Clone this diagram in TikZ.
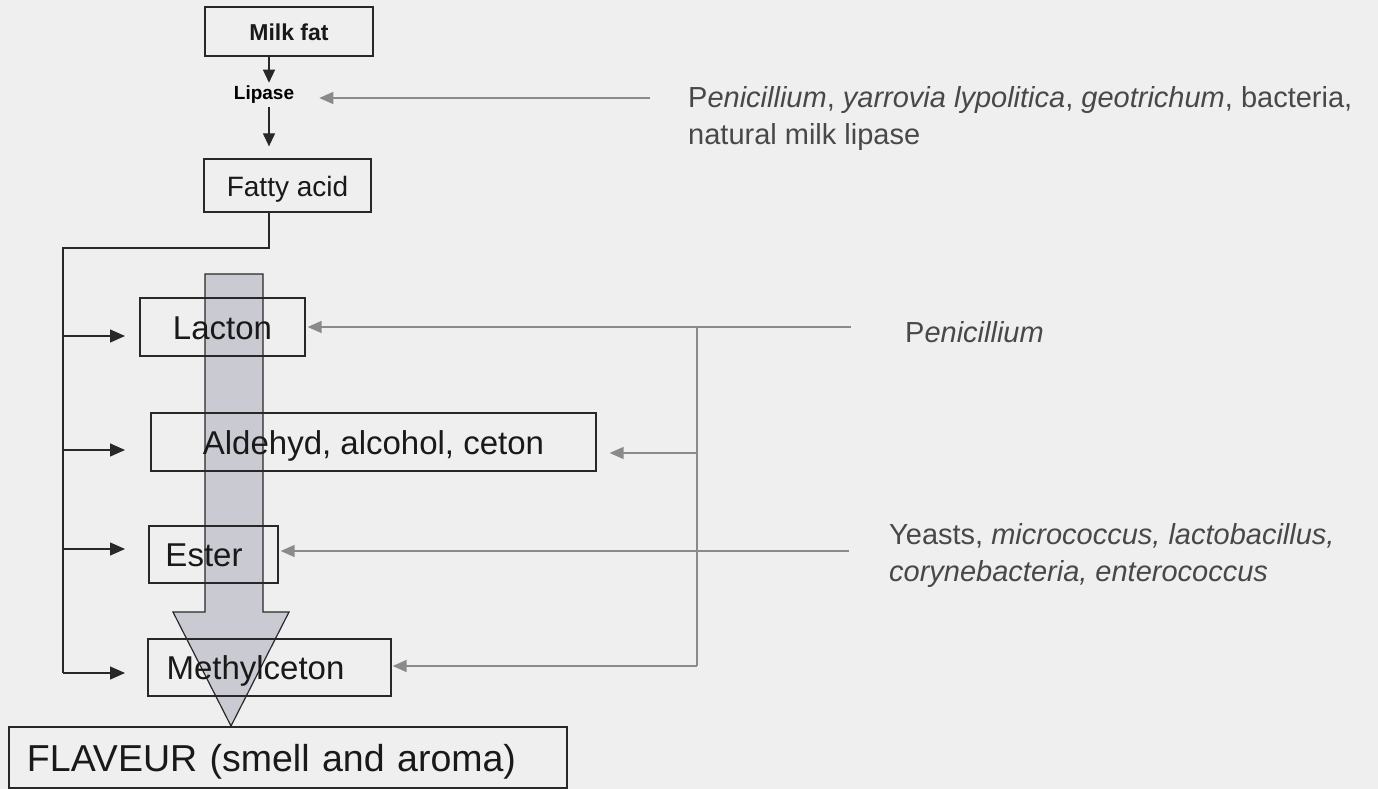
\documentclass[tikz,border=0pt]{standalone}
\usepackage{fontspec}
\setmainfont{Liberation Sans}
\usetikzlibrary{arrows.meta}
\definecolor{bg}{RGB}{239,239,239}
\definecolor{boxline}{RGB}{40,40,40}
\definecolor{graylink}{RGB}{138,138,138}
\definecolor{bigfill}{RGB}{202,202,210}
\definecolor{srctext}{RGB}{72,72,72}
\begin{document}
\begin{tikzpicture}[x=1pt,y=-1pt,
  box/.style={draw=boxline, line width=1.3pt, inner sep=0pt, text=black!90},
  boxtext/.style={font=\fontsize{33}{38}\selectfont, text height=26.4pt, text depth=1.65pt},
  src/.style={anchor=base west, inner sep=0pt, text=srctext, font=\fontsize{29}{35}\selectfont},
  blk/.style={draw=boxline, line width=1.3pt, -{Triangle[length=15pt,width=13pt]}},
  trunk/.style={draw=boxline, line width=1.3pt},
  glink/.style={draw=graylink, line width=1.5pt},
  garrow/.style={draw=graylink, line width=1.5pt, -{Triangle[length=14pt,width=12pt]}},
  bigarrow/.style={draw=boxline, line width=1.2pt, fill=bigfill}
]
\useasboundingbox (0,0) rectangle (1378,789);
\fill[bg] (0,0) rectangle (1378,789);

% big downward arrow (behind the boxes)
\draw[bigarrow] (205,274) -- (263,274) -- (263,612) -- (289,612) -- (231,726)
  -- (173,612) -- (205,612) -- cycle;

% boxes
\node[box, minimum width=168pt, minimum height=49pt, font=\bfseries\fontsize{23}{27}\selectfont,
  text height=18.4pt, text depth=1.15pt]
  (milk) at (289,31.5) {Milk fat};
\node[inner sep=0pt, text height=15.2pt, text depth=0.95pt, font=\bfseries\fontsize{19}{22}\selectfont]
  (lip) at (264,92) {Lipase};
\node[box, minimum width=167pt, minimum height=53pt, font=\fontsize{28}{33}\selectfont,
  text height=22.4pt, text depth=1.4pt]
  (fatty) at (287.5,185.5) {Fatty acid};
\node[box, boxtext, minimum width=165pt, minimum height=58pt] (lacton) at (222.5,327) {Lacton};
\node[box, boxtext, minimum width=445pt, minimum height=58pt] (ald) at (373.5,442) {Aldehyd, alcohol, ceton};
\node[box, boxtext, minimum width=129pt, minimum height=57pt] (ester) at (213.5,554.5) {Ester\kern19pt};
\node[box, boxtext, minimum width=243pt, minimum height=57pt] (meth) at (269.5,667.5) {Methylceton\kern28pt};
\node[box, minimum width=558pt, minimum height=61pt, inner xsep=18pt, text width=522pt, align=left,
  font=\fontsize{37.5}{44}\selectfont, text height=30pt, text depth=1.9pt] (flav) at (288,757.5) {FLAVEUR (smell and aroma)};

% source texts
\node[src] (s1a) at (688,108) {P\textit{enicillium}, \textit{yarrovia lypolitica}, \textit{geotrichum}, bacteria,};
\node[src] (s1b) at (688,144) {natural milk lipase};
\node[src] (s2) at (905,342) {P\textit{enicillium}};
\node[src] (s3a) at (889,544) {Yeasts, \textit{micrococcus, lactobacillus,}};
\node[src] (s3b) at (889,581) {\textit{corynebacteria, enterococcus}};

% coordinates
\coordinate (ax) at (269,0);
\coordinate (j0) at (63,248);
\coordinate (j1) at (63,336);
\coordinate (j2) at (63,450);
\coordinate (j3) at (63,549);
\coordinate (j4) at (63,673);
\coordinate (e1) at (125,336);
\coordinate (e2) at (125,450);
\coordinate (e3) at (125,549);
\coordinate (e4) at (125,673);
\coordinate (gs1) at (650,98);
\coordinate (gs2) at (851,327);
\coordinate (gs3) at (849,551);
\coordinate (gv1) at (697,327);
\coordinate (gv2) at (697,666);
\coordinate (gv3) at (697,453);

% main chain
\draw[blk, -{Triangle[length=13pt,width=12pt]}] (milk.south -| ax) -- ([yshift=1pt]lip.north -| ax);
\draw[blk, -{Triangle[length=13pt,width=12pt]}] ([yshift=-7pt]lip.south -| ax) -- ([yshift=12pt]fatty.north -| ax);
\draw[trunk] (fatty.south -| ax) |- (j0) -- (j1);
\draw[trunk] (j1) -- (j4);
\draw[blk] (j1) -- (e1);
\draw[blk] (j2) -- (e2);
\draw[blk] (j3) -- (e3);
\draw[blk] (j4) -- (e4);

% gray source links
\draw[garrow] (gs1) -- ([xshift=25pt]lip.east |- gs1);
\draw[garrow] (gs2) -- ([xshift=2pt]lacton.east |- gs2);
\draw[glink, line width=1.2pt] (gv1) -- (gv2);
\draw[garrow] (gv2) -- ([xshift=1pt]meth.east |- gv2);
\draw[garrow] (gv3) -- ([xshift=13pt]ald.east |- gv3);
\draw[garrow] (gs3) -- ([xshift=2pt]ester.east |- gs3);
\end{tikzpicture}
\end{document}
